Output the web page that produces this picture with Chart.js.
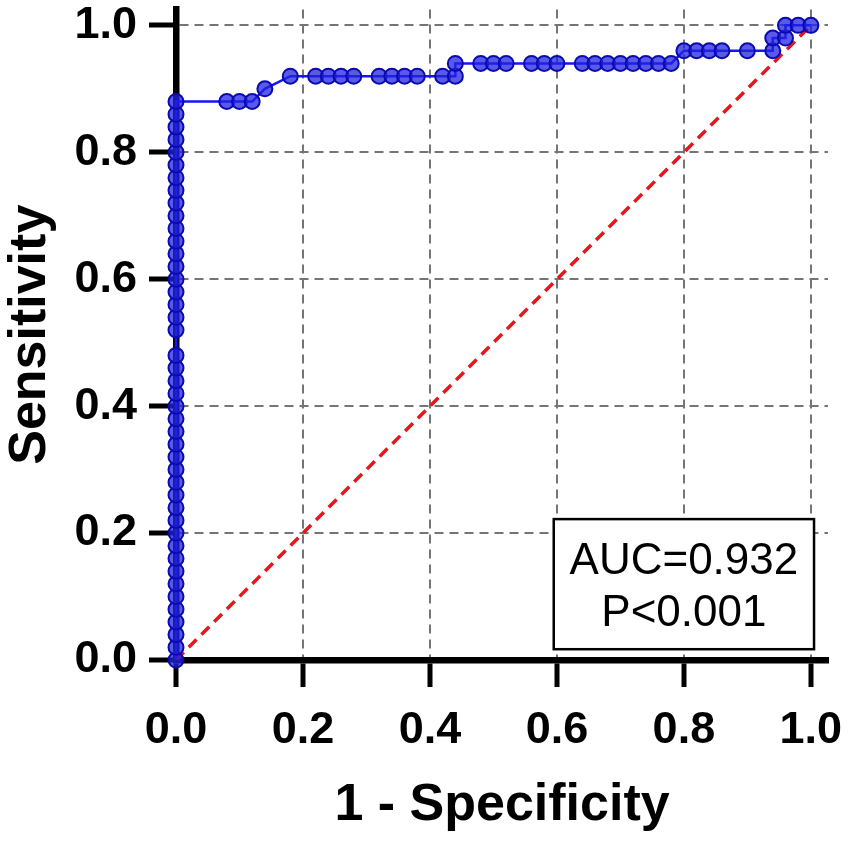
<!DOCTYPE html>
<html>
<head>
<meta charset="utf-8">
<script src="https://cdn.jsdelivr.net/npm/chart.js@4/dist/chart.umd.min.js"></script>
<style>
  html, body { margin: 0; padding: 0; background: #fff; }
  #wrap { width: 851px; height: 842px; }
</style>
</head>
<body>
<div id="wrap"><canvas id="rocChart" width="851" height="842"></canvas></div>
<script>
// ROC curve points (1 - specificity, sensitivity)
const fpr = [
  0, 0, 0, 0, 0, 0, 0, 0, 0, 0, 0, 0, 0, 0, 0, 0, 0, 0, 0, 0, 0, 0,
  0, 0, 0, 0, 0, 0, 0, 0, 0, 0, 0, 0, 0, 0, 0, 0, 0, 0, 0, 0, 0, 0,
  0.08, 0.10, 0.12, 0.14, 0.18, 0.22, 0.24, 0.26, 0.28, 0.32, 0.34, 0.36, 0.38,
  0.42, 0.44, 0.44, 0.48, 0.50, 0.52, 0.56, 0.58, 0.60, 0.64, 0.66, 0.68, 0.70,
  0.72, 0.74, 0.76, 0.78, 0.80, 0.82, 0.84, 0.86, 0.90, 0.94, 0.94, 0.96, 0.96,
  0.98, 1.00,
];
const sensitivity = [
  0.00, 0.02, 0.04, 0.06, 0.08, 0.10, 0.12, 0.14, 0.16, 0.18, 0.20, 0.22,
  0.24, 0.26, 0.28, 0.30, 0.32, 0.34, 0.36, 0.38, 0.40, 0.42, 0.44, 0.46,
  0.48, 0.52, 0.54, 0.56, 0.58, 0.60, 0.62, 0.64, 0.66, 0.68, 0.70, 0.72,
  0.74, 0.76, 0.78, 0.80, 0.82, 0.84, 0.86, 0.88,
  0.88, 0.88, 0.88, 0.90, 0.92, 0.92, 0.92, 0.92, 0.92, 0.92, 0.92, 0.92, 0.92,
  0.92, 0.92, 0.94, 0.94, 0.94, 0.94, 0.94, 0.94, 0.94, 0.94, 0.94, 0.94, 0.94,
  0.94, 0.94, 0.94, 0.94, 0.96, 0.96, 0.96, 0.96, 0.96, 0.96, 0.98, 0.98, 1.00,
  1.00, 1.00,
];
// reference line
const refX = [0, 1];
const refY = [0, 1];

const tickValues = [0, 0.2, 0.4, 0.6, 0.8, 1.0];
const aucLines = ["AUC=0.932", "P<0.001"];

const FONT = '"Liberation Sans", Arial, Helvetica, sans-serif';

const rocPoints = fpr.map((x, i) => ({ x, y: sensitivity[i] }));
const refPoints = refX.map((x, i) => ({ x, y: refY[i] }));

const fixTicks = (scale) => {
  scale.ticks = tickValues.map((v) => ({ value: v }));
};

// box with AUC text, placed in data units
const aucBox = {
  id: "aucBox",
  afterDatasetsDraw(chart) {
    const { ctx, scales: { x, y } } = chart;
    const left = x.getPixelForValue(0.595);
    const right = x.getPixelForValue(1.005);
    const top = y.getPixelForValue(0.222);
    const bottom = y.getPixelForValue(0.017);
    ctx.save();
    ctx.fillStyle = "#fff";
    ctx.fillRect(left, top, right - left, bottom - top);
    ctx.lineWidth = 2.5;
    ctx.strokeStyle = "#000";
    ctx.strokeRect(left, top, right - left, bottom - top);
    ctx.fillStyle = "#000";
    ctx.font = `44px ${FONT}`;
    ctx.textAlign = "center";
    ctx.textBaseline = "alphabetic";
    const cx = (left + right) / 2;
    ctx.fillText(aucLines[0], cx, top + 55);
    ctx.fillText(aucLines[1], cx, top + 107);
    ctx.restore();
  },
};

const axisCommon = {
  type: "linear",
  min: 0,
  afterBuildTicks: fixTicks,
  grid: {
    color: "#757575",
    lineWidth: 2,
    drawTicks: true,
    tickLength: 27,
    tickWidth: 5,
    tickColor: "#000",
  },
  border: { color: "#000", width: 6.5, dash: [9, 6] },
};

new Chart(document.getElementById("rocChart"), {
  type: "scatter",
  data: {
    datasets: [
      {
        data: rocPoints,
        showLine: true,
        borderColor: "#1414ff",
        borderWidth: 2.5,
        pointRadius: 7.5,
        pointBackgroundColor: "rgba(35, 35, 225, 0.75)",
        pointBorderColor: "#0a0ab0",
        pointBorderWidth: 2,
        clip: false,
      },
      {
        data: refPoints,
        showLine: true,
        borderColor: "#e8161b",
        borderWidth: 3.5,
        borderDash: [11, 7],
        pointRadius: 0,
      },
    ],
  },
  options: {
    responsive: false,
    animation: false,
    layout: { padding: { top: 8, right: 23, left: 0, bottom: 0 } },
    plugins: { legend: { display: false }, tooltip: { enabled: false } },
    scales: {
      x: {
        ...axisCommon,
        max: 1.027,
        afterFit: (scale) => {
          scale.height = 182;
          scale.paddingLeft = 0;
          scale.paddingRight = 0;
        },
        ticks: {
          color: "#000",
          padding: 21,
          font: { family: FONT, size: 45, weight: "bold", lineHeight: 1 },
          callback: (v) => Number(v).toFixed(1),
        },
        title: {
          display: true,
          text: "1 - Specificity",
          color: "#000",
          font: { family: FONT, size: 52, weight: "bold", lineHeight: 1 },
          padding: { top: 0, bottom: 10 },
        },
      },
      y: {
        ...axisCommon,
        max: 1.025,
        afterFit: (scale) => {
          scale.width = 176;
          scale.paddingTop = 0;
          scale.paddingBottom = 0;
        },
        ticks: {
          color: "#000",
          padding: 12,
          font: { family: FONT, size: 45, weight: "bold", lineHeight: 1 },
          callback: (v) => Number(v).toFixed(1),
        },
        title: {
          display: true,
          text: "Sensitivity",
          color: "#000",
          font: { family: FONT, size: 52, weight: "bold", lineHeight: 1 },
          padding: { top: 5, bottom: 0 },
        },
      },
    },
  },
  plugins: [aucBox],
});
</script>
</body>
</html>
